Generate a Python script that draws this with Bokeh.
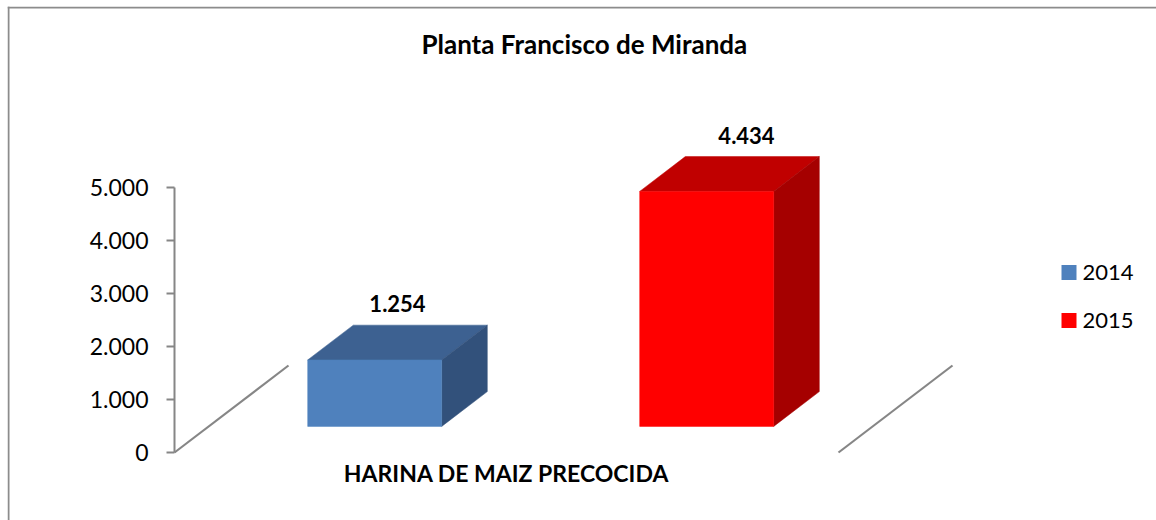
from bokeh.plotting import figure
from bokeh.models import FixedTicker, BoxAnnotation
from bokeh.core.properties import value
from bokeh.embed import file_html
from bokeh.resources import INLINE

# ---------------- data ----------------
title_text = "Planta  Francisco de Miranda"
categories = ["HARINA DE MAIZ PRECOCIDA"]
series_names = ["2014", "2015"]
values_2014 = [1254]
values_2015 = [4434]
tick_values = [0, 1000, 2000, 3000, 4000, 5000]
tick_labels = ["0", "1.000", "2.000", "3.000", "4.000", "5.000"]

# ---------------- styles ----------------
front_colors = ["#4F81BD", "#FF0000"]
top_colors = ["#3D6191", "#C00000"]
side_colors = ["#32517B", "#A50000"]
AXIS_GRAY = "#868686"
BORDER_GRAY = "#8C8C8C"
FONT = "Lato"
BASELINE_FIX = 0.38       # em; alphabetic baseline drawn lower in the svg output

# ---------------- geometry (page pixels) ----------------
FIG_W, FIG_H = 1156, 520
FRAME_LEFT, FRAME_TOP = 7, 6
AXIS_PX = 174             # page column of the value axis
ZERO_PX = 452             # page row of value 0
YPX = 265 / 5000          # pixels per value unit
XPX = 664                 # pixels per category unit
x0 = 0.5                  # left edge of the category slot (at the axis)


def X(px):
    return x0 + (px - AXIS_PX) / XPX


def Y(py):
    return (ZERO_PX - py) / YPX


def base_y(py, size):
    # data y for a wanted baseline row py, font size in px
    return Y(py - BASELINE_FIX * size)


FLOOR_DX = 114 / XPX
FLOOR_DY = 87 / YPX
SERIES_OFFSETS = [-0.25, 0.25]
BAR_W = 134 / XPX
FRONT_FRAC = 0.3
DEPTH_FRAC = 0.4
LABEL_NUDGE_PX = [0, 17]
LABEL_GAP_PX = 13

p = figure(width=FIG_W, height=FIG_H, x_range=(X(FRAME_LEFT), X(FIG_W)),
           y_range=(Y(FIG_H), Y(FRAME_TOP)),
           output_backend="svg", toolbar_location=None, x_axis_location=None,
           min_border_left=FRAME_LEFT, min_border_right=0, min_border_top=FRAME_TOP,
           min_border_bottom=0, title=None)
p.grid.visible = False
p.outline_line_color = None
p.background_fill_color = "white"
p.border_fill_color = "white"

# chart area border (top and left only)
p.add_layout(BoxAnnotation(left=X(FRAME_LEFT), right=X(FRAME_LEFT + 2), top=Y(FRAME_TOP),
                           bottom=Y(FIG_H), fill_color=BORDER_GRAY, fill_alpha=1,
                           line_color=None, level="overlay"))
p.add_layout(BoxAnnotation(left=X(FRAME_LEFT), right=X(FIG_W), top=Y(FRAME_TOP),
                           bottom=Y(FRAME_TOP + 2), fill_color=BORDER_GRAY, fill_alpha=1,
                           line_color=None, level="overlay"))

# y axis, drawn at the start of the category slot
ax = p.yaxis[0]
ax.fixed_location = x0
ax.ticker = FixedTicker(ticks=tick_values)
ax.major_label_overrides = dict(zip(tick_values, tick_labels))
ax.bounds = (tick_values[0], tick_values[-1])
ax.axis_line_color = AXIS_GRAY
ax.axis_line_width = 2
ax.major_tick_line_color = AXIS_GRAY
ax.major_tick_line_width = 2
ax.major_tick_out = 8
ax.major_tick_in = 0
ax.minor_tick_out = 0
ax.minor_tick_in = 0
ax.major_label_text_font = FONT
ax.major_label_text_font_size = "23px"
ax.major_label_text_color = "#000000"
ax.major_label_standoff = 18

# floor (3D base) edges
cat_x = [i + 1 for i in range(len(categories))]
fx0 = [c - 0.5 for c in cat_x] + [cat_x[-1] + 0.5]
p.segment(x0=fx0, y0=[0] * len(fx0), x1=[v + FLOOR_DX for v in fx0],
          y1=[FLOOR_DY] * len(fx0), line_color=AXIS_GRAY, line_width=2.2)

# 3D bars
ddx = DEPTH_FRAC * FLOOR_DX
ddy = DEPTH_FRAC * FLOOR_DY
all_values = [values_2014, values_2015]
VAL_SIZE = 22
lab_x, lab_y, lab_t = [], [], []
for s, vals in enumerate(all_values):
    L, R, B, T = [], [], [], []
    for ci, v in enumerate(vals):
        cx = cat_x[ci] + SERIES_OFFSETS[s] + FRONT_FRAC * FLOOR_DX
        base = FRONT_FRAC * FLOOR_DY
        L.append(cx - BAR_W / 2)
        R.append(cx + BAR_W / 2)
        B.append(base)
        T.append(base + v)
        lab_x.append(cx + ddx / 2 + LABEL_NUDGE_PX[s] / XPX)
        lab_y.append(base + v + ddy + (LABEL_GAP_PX + BASELINE_FIX * VAL_SIZE) / YPX)
        lab_t.append(f"{v:,}".replace(",", "."))
    top_xs = [[l, r, r + ddx, l + ddx] for l, r in zip(L, R)]
    top_ys = [[t, t, t + ddy, t + ddy] for t in T]
    side_xs = [[r, r + ddx, r + ddx, r] for r in R]
    side_ys = [[b, b + ddy, t + ddy, t] for b, t in zip(B, T)]
    p.patches(xs=top_xs, ys=top_ys, fill_color=top_colors[s], line_color=top_colors[s], line_width=0.5)
    p.patches(xs=side_xs, ys=side_ys, fill_color=side_colors[s], line_color=side_colors[s], line_width=0.5)
    p.quad(left=L, right=R, bottom=B, top=T, fill_color=front_colors[s],
           line_color=front_colors[s], line_width=0.5)

# value labels
p.text(x=lab_x, y=lab_y, text=lab_t, text_font=value(FONT), text_font_style="bold",
       text_font_size=f"{VAL_SIZE}px", text_align="center", text_baseline="alphabetic",
       text_color="#000000")

# category label
p.text(x=cat_x, y=[base_y(481, 23)] * len(cat_x), text=categories, text_font=value(FONT),
       text_font_style="bold", text_font_size="23px", text_align="center",
       text_baseline="alphabetic", text_color="#000000")

# title
p.text(x=[X(587)], y=[base_y(53, 26)], text=[title_text], text_font=value(FONT),
       text_font_style="bold", text_font_size="26px", text_align="center",
       text_baseline="alphabetic", text_color="#000000")

# legend
leg_sq_y = [Y(272), Y(320)]
leg_tx_y = [base_y(280, 22), base_y(328, 22)]
p.scatter(x=[X(1068.5)] * 2, y=leg_sq_y, marker="square", size=15,
          fill_color=front_colors, line_color=None)
p.text(x=[X(1082)] * 2, y=leg_tx_y, text=series_names, text_font=value(FONT),
       text_font_size="22px", text_align="left", text_baseline="alphabetic",
       text_color="#000000")

open("out.html", "w").write(file_html(p, INLINE))
